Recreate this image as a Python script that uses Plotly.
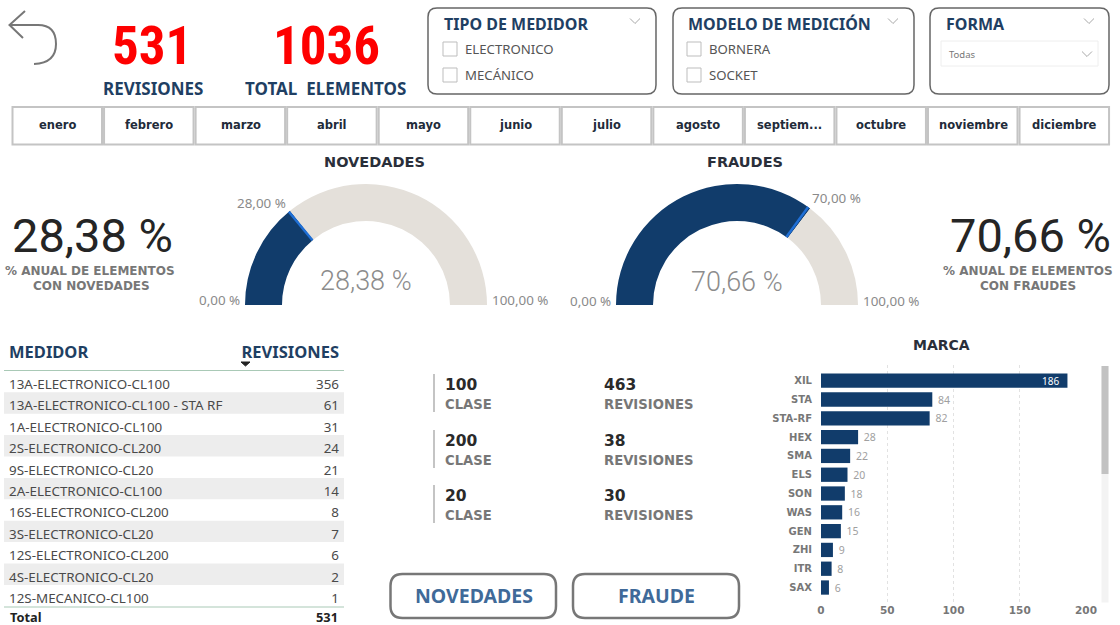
import math
import plotly.graph_objects as go

W, H = 1120, 625

# ---- data ----
KPI_VALUES = ["531", "1036"]
KPI_LABELS = ["REVISIONES", "TOTAL  ELEMENTOS"]
TIPO_OPTIONS = ["ELECTRONICO", "MECÁNICO"]
MODELO_OPTIONS = ["BORNERA", "SOCKET"]
MONTHS = ["enero", "febrero", "marzo", "abril", "mayo", "junio", "julio", "agosto",
          "septiem...", "octubre", "noviembre", "diciembre"]
NOV_VALUE, NOV_TARGET = 28.38, 28.0
FRA_VALUE, FRA_TARGET = 70.66, 70.0
MEDIDORES = ["13A-ELECTRONICO-CL100", "13A-ELECTRONICO-CL100 - STA RF", "1A-ELECTRONICO-CL100",
             "2S-ELECTRONICO-CL200", "9S-ELECTRONICO-CL20", "2A-ELECTRONICO-CL100",
             "16S-ELECTRONICO-CL200", "3S-ELECTRONICO-CL20", "12S-ELECTRONICO-CL200",
             "4S-ELECTRONICO-CL20", "12S-MECANICO-CL100"]
MED_REV = [356, 61, 31, 24, 21, 14, 8, 7, 6, 2, 1]
MED_TOTAL = 531
CLASES = ["100", "200", "20"]
CLASE_REV = ["463", "38", "30"]
MARCAS = ["XIL", "STA", "STA-RF", "HEX", "SMA", "ELS", "SON", "WAS", "GEN", "ZHI", "ITR", "SAX"]
MARCA_VAL = [186, 84, 82, 28, 22, 20, 18, 16, 15, 9, 8, 6]

NAVY = "#113c6b"
SAND = "#e4e0da"
TARGET = "#1f6fd6"
TITLE = "#1f3f63"
GREY = "#777777"
BODY = "Noto Sans"
HEAD = "DejaVu Sans"
NARROW = "Roboto Condensed, Roboto"
PLAIN = "Roboto"


def px(x):
    return x / W


def py(y):
    return 1 - y / H


def P(x, y):
    return f"{px(x):.5f},{py(y):.5f}"


shapes, annots = [], []


def ann(x, y, text, size=12, color="#333", font=BODY, bold=False, anchor="center", weight=None):
    f = dict(size=size, color=color, family=font)
    if weight:
        f["weight"] = weight
    annots.append(dict(x=px(x), y=py(y), xref="paper", yref="paper", text=f"<b>{text}</b>" if bold else text,
                       showarrow=False, xanchor=anchor, yanchor="middle", borderpad=0, font=f))


def path(d, color="#777", width=1.5, fill=None):
    s = dict(type="path", path=d, xref="paper", yref="paper", line=dict(color=color, width=width))
    if fill:
        s["fillcolor"] = fill
    shapes.append(s)


def rrect(x0, y0, x1, y1, r, color="#666", width=1.5, fill=None):
    d = (f"M{P(x0 + r, y0)} L{P(x1 - r, y0)} Q{P(x1, y0)} {P(x1, y0 + r)} L{P(x1, y1 - r)} "
         f"Q{P(x1, y1)} {P(x1 - r, y1)} L{P(x0 + r, y1)} Q{P(x0, y1)} {P(x0, y1 - r)} "
         f"L{P(x0, y0 + r)} Q{P(x0, y0)} {P(x0 + r, y0)} Z")
    path(d, color, width, fill)


def rect(x0, y0, x1, y1, line="#bbb", width=1, fill=None, layer="above"):
    shapes.append(dict(type="rect", xref="paper", yref="paper", x0=px(x0), x1=px(x1), y0=py(y0), y1=py(y1),
                       line=dict(color=line, width=width), fillcolor=fill or "rgba(0,0,0,0)", layer=layer))


def hline(x0, x1, y, color, width=1):
    shapes.append(dict(type="line", xref="paper", yref="paper", x0=px(x0), x1=px(x1), y0=py(y), y1=py(y),
                       line=dict(color=color, width=width)))


def vline(x, y0, y1, color, width=1):
    shapes.append(dict(type="line", xref="paper", yref="paper", x0=px(x), x1=px(x), y0=py(y0), y1=py(y1),
                       line=dict(color=color, width=width)))


def chevron(x, y, s=5, color="#a8a8a8"):
    path(f"M{P(x - s, y - s / 2)} L{P(x, y + s / 2)} L{P(x + s, y - s / 2)}", color, 1)


# back arrow
path(f"M{P(25, 11)} L{P(9.5, 25)} L{P(23, 38)}", "#777", 2)
path(f"M{P(9.5, 25)} L{P(38, 25)} Q{P(56, 25)} {P(56, 44)} Q{P(56, 63)} {P(34, 64)}", "#777", 2)

# KPIs
for cx, v in zip([152, 326], KPI_VALUES):
    ann(cx, 46, v, 53, "#fe0000", NARROW, True)
for cx, lab in zip([153, 325], KPI_LABELS):
    ann(cx, 88, lab.replace("  ", "&nbsp;&nbsp;"), 17, TITLE, BODY, True)

# slicers
rrect(428, 8, 656, 94, 9)
rrect(673, 8, 914, 94, 9)
rrect(930, 8, 1109, 94, 9)
ann(443, 24, "TIPO DE MEDIDOR", 16, TITLE, BODY, True, "left")
ann(687, 24, "MODELO DE MEDICIÓN", 16, TITLE, BODY, True, "left")
ann(945, 24, "FORMA", 16, TITLE, BODY, True, "left")
chevron(635, 21)
chevron(893, 21)
chevron(1089, 21)
for x0, opts in ((443, TIPO_OPTIONS), (687, MODELO_OPTIONS)):
    for y, o in zip((49, 75), opts):
        rect(x0, y - 7, x0 + 14, y + 7, "#bdbdbd", 1)
        ann(x0 + 21, y, o, 13.2, "#555", BODY, False, "left")
rect(941, 41, 1098, 66, "#eeeeee", 1)
ann(948, 54, "Todas", 9.5, "#777", BODY, False, "left")
chevron(1087, 54)

# months
for i, m in enumerate(MONTHS):
    x0 = 12.5 + i * 91.55
    rect(x0, 107, x0 + 89.5, 144.5, "#c4c4c4", 2)
    ann(x0 + 45, 125.5, m, 11.5, "#222b3a", HEAD, True)

# gauge titles and text
ann(374, 162, "NOVEDADES", 14.5, "#2a2f3a", HEAD, True)
ann(745, 162, "FRAUDES", 14.5, "#2a2f3a", HEAD, True)
ann(92, 235, "28,38 %", 47, "#252525", PLAIN, weight=400)
ann(1030, 235, "70,66 %", 47, "#252525", PLAIN, weight=400)
ann(90, 271, "% ANUAL DE ELEMENTOS", 12, GREY, HEAD, True)
ann(91, 286, "CON NOVEDADES", 12, GREY, HEAD, True)
ann(1028, 271, "% ANUAL DE ELEMENTOS", 12, GREY, HEAD, True)
ann(1028, 286, "CON FRAUDES", 12, GREY, HEAD, True)
LABEL_GREY = "#8a8a8a"
ann(219, 300, "0,00 %", 13.4, LABEL_GREY, BODY)
ann(520, 300, "100,00 %", 13.4, LABEL_GREY, BODY)
ann(261, 203, f"{NOV_TARGET:.2f} %".replace(".", ","), 13.4, LABEL_GREY, BODY)
ann(366, 281, f"{NOV_VALUE:.2f} %".replace(".", ","), 27, "#8c8c8c", PLAIN, weight=300)
ann(590, 301, "0,00 %", 13.4, LABEL_GREY, BODY)
ann(892, 301, "100,00 %", 13.4, LABEL_GREY, BODY)
ann(836, 198, f"{FRA_TARGET:.2f} %".replace(".", ","), 13.4, LABEL_GREY, BODY)
ann(737, 282, f"{FRA_VALUE:.2f} %".replace(".", ","), 27, "#8c8c8c", PLAIN, weight=300)

# class rows
for y, c, r in zip((385, 441, 496), CLASES, CLASE_REV):
    vline(434, y - 11, y + 27, "#c4c4c4", 2)
    ann(444, y, c, 15.5, "#2a2a2a", HEAD, True, "left")
    ann(444, y + 19, "CLASE", 13.2, GREY, HEAD, True, "left")
    ann(603, y, r, 15.5, "#2a2a2a", HEAD, True, "left")
    ann(603, y + 19, "REVISIONES", 13.2, GREY, HEAD, True, "left")

# buttons
rrect(390.5, 574, 556, 618, 12, "#777", 2.5)
rrect(573, 574, 739, 618, 12, "#777", 2.5)
ann(474, 595.5, "NOVEDADES", 19.5, "#3f6a99", BODY, True)
ann(656, 595.5, "FRAUDE", 19.5, "#3f6a99", BODY, True)

# table decoration
ann(941, 345, "MARCA", 14, "#2a2f3a", HEAD, True)
ROW_H = 21.4
for i in range(len(MEDIDORES)):
    if i % 2:
        rect(4, 370.9 + i * ROW_H, 344, 370.9 + (i + 1) * ROW_H, "#ededed", 0, "#ededed", "below")
hline(4, 344, 370.5, "#a9c9b6", 1)
hline(4, 344, 607, "#a9c9b6", 1)
path(f"M{P(241, 362)} L{P(250, 362)} L{P(245.5, 366)} Z", "#222", 1, "#222")
ann(9, 617, "Total", 12.8, "#222", BODY, True, "left")
ann(339, 617, str(MED_TOTAL), 12.8, "#222", BODY, True, "right")

# scrollbar of the bar chart
rect(1101.5, 366, 1108.5, 602.5, "#f3f3f3", 0, "#f3f3f3")
rect(1101.5, 366, 1108.5, 474, "#c2c2c2", 0, "#c2c2c2")

fig = go.Figure()


def gauge(value, cx, cy, R):
    fig.add_trace(go.Pie(values=[value, 100 - value, 100], sort=False, direction="clockwise", rotation=270,
                         hole=84 / 121, textinfo="none", hoverinfo="skip", showlegend=False,
                         marker=dict(colors=[NAVY, SAND, "rgba(0,0,0,0)"], line=dict(width=0)),
                         domain=dict(x=[px(cx - R), px(cx + R)], y=[py(cy + R), py(cy - R)])))


gauge(NOV_VALUE, 366, 305, 121)
gauge(FRA_VALUE, 737, 305, 121)


def target_mark(t, cx, cy, R, r):
    a = math.pi * (1 - t / 100)
    shapes.append(dict(type="line", xref="paper", yref="paper",
                       x0=px(cx + r * math.cos(a)), y0=py(cy - r * math.sin(a)),
                       x1=px(cx + R * math.cos(a)), y1=py(cy - R * math.sin(a)),
                       line=dict(color=TARGET, width=2.5)))


target_mark(NOV_TARGET, 366, 305, 121, 84)
target_mark(FRA_TARGET, 737, 305, 121, 84)

# table
CLEAR = "rgba(0,0,0,0)"
fig.add_trace(go.Table(
    domain=dict(x=[px(1), px(347)], y=[py(622), py(332)]),
    columnwidth=[230, 116],
    header=dict(values=["<b>MEDIDOR</b>", "<b>REVISIONES</b>"], align=["left", "right"], height=30,
                fill_color=CLEAR, line_width=0,
                font=dict(size=16.5, color=TITLE, family=BODY)),
    cells=dict(values=[[m.replace(" ", "\u00a0") for m in MEDIDORES], MED_REV], align=["left", "right"],
               height=ROW_H, fill_color=CLEAR, line_width=0,
               font=dict(size=13.4, color="#4a4a4a", family=BODY))))

# bars
BAR_TEXT = [f"{v}\u00a0\u00a0" if v > 100 else f"\u00a0{v}" for v in MARCA_VAL]
fig.add_trace(go.Bar(
    y=MARCAS, x=MARCA_VAL, orientation="h", marker=dict(color=NAVY, line=dict(width=0)), width=0.76,
    text=BAR_TEXT, textposition=["inside"] + ["outside"] * 11, insidetextanchor="end", constraintext="none",
    insidetextfont=dict(color="white", size=10, family=BODY),
    outsidetextfont=dict(color="#a0a0a0", size=10.5, family=BODY),
    cliponaxis=False, hoverinfo="skip", showlegend=False))

fig.update_layout(
    width=W, height=H, autosize=False, margin=dict(l=0, r=0, t=0, b=0, autoexpand=False),
    paper_bgcolor="white", plot_bgcolor="white", shapes=shapes, annotations=annots,
    bargap=0.24,
    xaxis=dict(domain=[px(821), px(1086)], range=[0, 200], tickvals=[0, 50, 100, 150, 200],
               showgrid=True, gridcolor="#e2e2e2", griddash="dot", gridwidth=1, zeroline=False,
               showline=False, ticks="", tickfont=dict(size=10.5, color=GREY, family=HEAD, weight="bold")),
    yaxis=dict(domain=[py(602), py(365)], range=[11.77, -0.836], type="category",
               showgrid=False, showline=False, ticks="", ticklabelstandoff=8,
               tickfont=dict(size=10, color=GREY, family=HEAD, weight="bold")),
)

fig.write_html("out.html", config={"displayModeBar": False},
               post_script="document.body.style.margin='0';document.body.style.overflow='hidden';")
